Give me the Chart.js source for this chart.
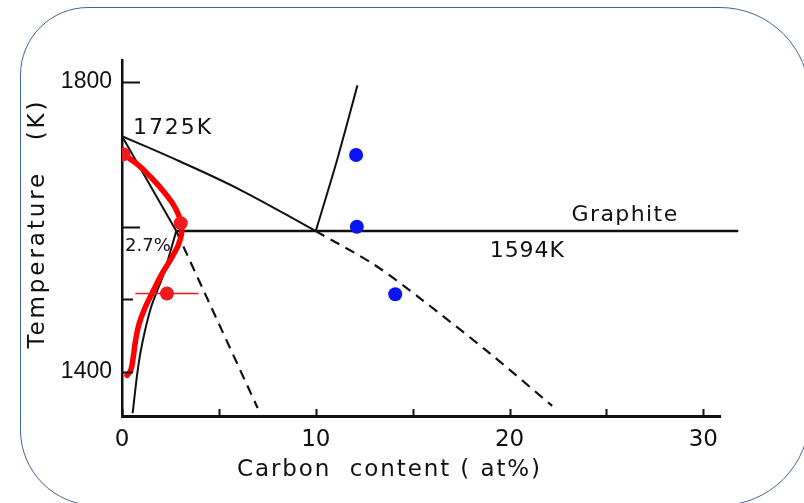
<!DOCTYPE html>
<html lang="en">

<head>
    <meta charset="UTF-8">
    <title>Fe-C phase diagram</title>
    <script src="https://cdn.jsdelivr.net/npm/chart.js"></script>
    <style>
        html, body { margin: 0; background: #fff; overflow: hidden; }
        .page { position: relative; width: 804px; height: 503px; overflow: hidden; }
        .frame {
            position: absolute; left: 20px; top: 7px; width: 790px; height: 499px;
            box-sizing: border-box; border: 1.5px solid #3f669c;
            border-radius: 68px 90px 90px 76px;
        }
        #phase-chart { position: absolute; left: 0; top: 0; }
    </style>
</head>

<body>
    <div class="page">
        <div class="frame"></div>
        <canvas id="phase-chart" width="804" height="503"></canvas>
    </div>

    <script>
        // Axis ticks
        const xTickLabels = [0, 10, 20, 30];
        const xTickMarks = [0, 5, 10, 15, 20, 25, 30];
        const yTickLabels = [1400, 1800];
        const yTickMarks = [1800, 1600, 1500, 1400];

        // Phase boundaries: [carbon at%, temperature K]
        const liquidus = [[0, 1725], [3, 1690], [6.1, 1651], [10, 1594]];
        const liquidusMeta = [[10, 1594], [13, 1548], [15.4, 1501], [19, 1425], [22.2, 1353]];
        const graphiteLine = [[10, 1594], [11.1, 1692], [12.15, 1795]];
        const eutectic = [[2.8, 1594], [31.8, 1594]];
        const solidus = [[0, 1725], [2.8, 1594]];
        const solvus = [[2.8, 1594], [2.15, 1535], [1.5, 1489], [1.05, 1440], [0.8, 1400], [0.55, 1343]];
        const solidusMeta = [[2.8, 1594], [7.0, 1350]];

        // Overlaid measurements
        const redCurve = [[0.07, 1700], [0.8, 1686], [1.5, 1668], [2.2, 1647], [2.75, 1626], [3.05, 1604],
            [3.0, 1582], [2.6, 1559], [2.08, 1536], [1.62, 1512], [1.2, 1489], [0.88, 1466],
            [0.7, 1443], [0.58, 1420], [0.45, 1402], [0.26, 1395]];
        const redDots = [[0.07, 1700], [3.03, 1605], [2.32, 1508]];
        const redErrorBar = [[0.69, 1508], [3.95, 1508]];
        const blueDots = [[12.08, 1699], [12.12, 1600], [14.1, 1507]];

        const pts = arr => arr.map(([x, y]) => ({ x, y }));

        function line(data, opts) {
            return Object.assign({
                data: pts(data), showLine: true, borderColor: '#111', borderWidth: 2,
                pointRadius: 0, tension: 0, fill: false
            }, opts || {});
        }

        // write text stretched to a given width with letter spacing
        function spacedText(ctx, text, x, y, width, align) {
            ctx.letterSpacing = '0px';
            const w = ctx.measureText(text).width;
            const sp = (width - w) / text.length;
            ctx.letterSpacing = sp + 'px';
            ctx.textAlign = align || 'left';
            ctx.fillText(text, align === 'center' ? x + sp / 2 : x, y);
            ctx.letterSpacing = '0px';
        }

        const decor = {
            id: 'decor',
            afterDraw(chart) {
                const ctx = chart.ctx;
                const xs = chart.scales.x, ys = chart.scales.y;
                const left = chart.chartArea.left, bottom = chart.chartArea.bottom;
                ctx.save();

                // inward tick marks
                ctx.strokeStyle = '#111';
                ctx.lineWidth = 2;
                yTickMarks.forEach(v => {
                    const py = Math.round(ys.getPixelForValue(v)) + 0.5;
                    const len = (v === 1800 || v === 1600) ? 18 : 11;
                    ctx.beginPath(); ctx.moveTo(left, py); ctx.lineTo(left + len, py); ctx.stroke();
                });
                xTickMarks.forEach(v => {
                    const px = Math.round(xs.getPixelForValue(v)) + 0.5;
                    ctx.beginPath(); ctx.moveTo(px, bottom); ctx.lineTo(px, bottom - 7); ctx.stroke();
                });

                // annotations
                ctx.fillStyle = '#111';
                ctx.textBaseline = 'middle';
                ctx.font = '22px "DejaVu Sans"';
                spacedText(ctx, '1725K', xs.getPixelForValue(0.57), ys.getPixelForValue(1736), 80);
                spacedText(ctx, 'Graphite', xs.getPixelForValue(23.2), ys.getPixelForValue(1616), 107);
                spacedText(ctx, '1594K', xs.getPixelForValue(18.98), ys.getPixelForValue(1566), 75);
                ctx.font = '18px "DejaVu Sans"';
                spacedText(ctx, '2.7%', xs.getPixelForValue(0.15), ys.getPixelForValue(1573), 46);

                // axis titles
                ctx.font = '23px "DejaVu Sans"';
                spacedText(ctx, 'Carbon  content ( at%)', 237, 470, 305);
                ctx.translate(38, 225);
                ctx.rotate(-Math.PI / 2);
                spacedText(ctx, 'Temperature   (K)', 0, 0, 250, 'center');
                ctx.restore();
            }
        };

        new Chart(document.getElementById('phase-chart'), {
            type: 'scatter',
            data: {
                datasets: [
                    line(redErrorBar, { borderColor: '#f01818', borderWidth: 1.5 }),
                    {
                        data: pts(redDots), pointRadius: 7, pointBackgroundColor: '#ee1c1c',
                        pointBorderWidth: 0, showLine: false
                    },
                    line(redCurve, { borderColor: '#ff0000', borderWidth: 5.5, tension: 0.45, borderCapStyle: 'round' }),
                    {
                        data: pts(blueDots), pointRadius: 7, pointBackgroundColor: '#0a14f5',
                        pointBorderWidth: 0, showLine: false
                    },
                    line(liquidus, { tension: 0.4 }),
                    line(liquidusMeta, { borderDash: [10, 7], borderWidth: 2.2, tension: 0.3 }),
                    line(graphiteLine, { tension: 0.3 }),
                    line(eutectic, { borderWidth: 2.5, clip: false }),
                    line(solidus),
                    line(solvus, { tension: 0.3 }),
                    line(solidusMeta, { borderDash: [10, 7], borderWidth: 2.2 })
                ]
            },
            options: {
                responsive: false,
                animation: false,
                layout: { padding: { top: 60, right: 84, left: 0, bottom: 0 } },
                plugins: { legend: { display: false }, tooltip: { enabled: false } },
                scales: {
                    x: {
                        type: 'linear', min: 0, max: 30.86,
                        afterFit: s => { s.height = 87; },
                        afterBuildTicks: s => { s.ticks = xTickLabels.map(v => ({ value: v })); },
                        grid: { display: false, drawTicks: false },
                        border: { display: true, color: '#111', width: 3 },
                        ticks: {
                            color: '#111', padding: 10, maxRotation: 0,
                            callback: v => String(v),
                            font: { family: 'DejaVu Sans', size: 23 }
                        }
                    },
                    y: {
                        type: 'linear', min: 1339, max: 1830,
                        afterFit: s => { s.width = 122; },
                        afterBuildTicks: s => { s.ticks = yTickLabels.map(v => ({ value: v })); },
                        grid: { display: false, drawTicks: false },
                        border: { display: true, color: '#111', width: 2.5 },
                        ticks: {
                            color: '#111', padding: 10,
                            callback: v => String(v),
                            font: { family: 'Liberation Sans', size: 23 }
                        }
                    }
                }
            },
            plugins: [decor]
        });
    </script>
</body>

</html>
